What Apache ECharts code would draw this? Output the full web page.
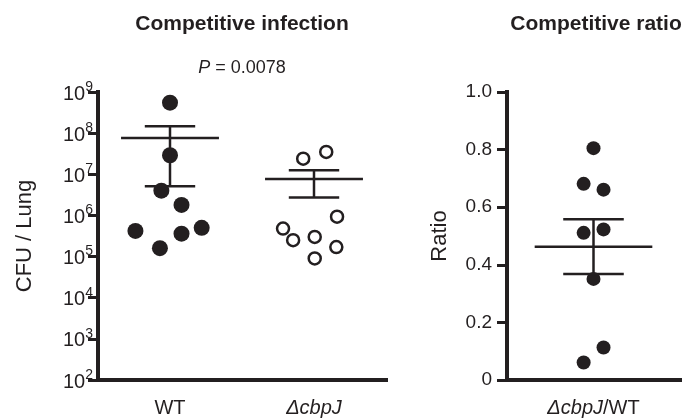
<!DOCTYPE html>
<html>
<head>
<meta charset="utf-8">
<script src="https://cdn.jsdelivr.net/npm/echarts@6/dist/echarts.min.js"></script>
<style>html,body{margin:0;padding:0;background:#fff;}#c{width:683px;height:419px;}</style>
</head>
<body>
<div id="c"></div>
<script>
// ---- data ----
const categories = ['WT', 'ΔcbpJ'];
const wtCFU = [5.5e8, 2.9e7, 4.0e6, 1.8e6, 4.2e5, 3.6e5, 5.0e5, 1.6e5];
const wtJitter = [0, 0, -0.06, 0.08, -0.24, 0.08, 0.22, -0.07];
const mutCFU = [2.4e7, 3.5e7, 9.3e5, 4.8e5, 2.5e5, 3.0e5, 1.7e5, 9.0e4];
const mutJitter = [-0.075, 0.085, 0.16, -0.215, -0.145, 0.005, 0.155, 0.005];
const cfuMean = [7.6e7, 7.67e6];
const cfuSem = [7.09e7, 4.93e6];

const ratioCategory = ['ΔcbpJ/WT'];
const ratioValues = [0.805, 0.681, 0.661, 0.511, 0.523, 0.351, 0.113, 0.061];
const ratioJitter = [0, -0.057, 0.058, -0.057, 0.058, 0, 0.058, -0.057];
const ratioMean = [0.463];
const ratioSem = [0.095];

const titles = ['Competitive infection', 'Competitive ratio'];
const pText = '0.0078';

// ---- chart ----
const INK = '#231f20';
const FONT = 'Liberation Sans, Arial, sans-serif';
const chart = echarts.init(document.getElementById('c'));

function errRenderItem(params, api) {
  const x = api.value(0), m = api.value(1), s = api.value(2);
  const c = (xx, yy) => api.coord([xx, yy]);
  const st = { stroke: INK, lineWidth: 2.5 };
  const seg = (a, b) => ({ type: 'line', shape: { x1: a[0], y1: a[1], x2: b[0], y2: b[1] }, style: st });
  return {
    type: 'group',
    children: [
      seg(c(x - 0.34, m), c(x + 0.34, m)),
      seg(c(x, m - s), c(x, m + s)),
      seg(c(x - 0.175, m + s), c(x + 0.175, m + s)),
      seg(c(x - 0.175, m - s), c(x + 0.175, m - s))
    ]
  };
}

function catLabel(name) {
  const i = name.indexOf('/');
  if (name.charAt(0) === 'Δ') {
    if (i > 0) return '{i|' + name.slice(0, i) + '}{n|' + name.slice(i) + '}';
    return '{i|' + name + '}';
  }
  return '{n|' + name + '}';
}
const catRich = {
  i: { fontSize: 20, fontStyle: 'italic', color: INK, fontFamily: FONT },
  n: { fontSize: 20, color: INK, fontFamily: FONT }
};

const axisLineStyle = { color: INK, width: 4, cap: 'square' };

const option = {
  animation: false,
  backgroundColor: '#fff',
  textStyle: { fontFamily: FONT },
  grid: [
    { left: 98, top: 92, width: 288, bottom: 39 },
    { left: 507, top: 92, width: 188, bottom: 39 }
  ],
  xAxis: [
    {
      type: 'value', gridIndex: 0, min: -0.5, max: 1.5, interval: 0.5,
      axisLine: { onZero: false, lineStyle: axisLineStyle },
      axisTick: { show: false }, splitLine: { show: false },
      axisLabel: {
        margin: 18, rich: catRich,
        formatter: v => {
          const k = Math.round(v);
          return (Math.abs(v - k) < 1e-6 && categories[k]) ? catLabel(categories[k]) : '';
        }
      }
    },
    {
      type: 'value', gridIndex: 1, min: -0.5, max: 0.5, interval: 0.5,
      axisLine: { onZero: false, lineStyle: axisLineStyle },
      axisTick: { show: false }, splitLine: { show: false },
      axisLabel: {
        margin: 18, rich: catRich,
        formatter: v => (Math.abs(v) < 1e-6 ? catLabel(ratioCategory[0]) : '')
      }
    }
  ],
  yAxis: [
    {
      type: 'log', logBase: 10, gridIndex: 0, min: 1e2, max: 1e9,
      name: 'CFU / Lung', nameLocation: 'middle', nameGap: 62,
      nameTextStyle: { fontSize: 22, color: INK, fontFamily: FONT },
      axisLine: { show: true, onZero: false, lineStyle: axisLineStyle },
      axisTick: { show: true, length: 10, lineStyle: { color: INK, width: 3 } },
      minorTick: { show: false },
      splitLine: { show: false },
      axisLabel: {
        margin: 5,
        formatter: v => '{b|10}{s|' + Math.round(Math.log10(v)) + '}',
        rich: {
          b: { fontSize: 20, lineHeight: 24, verticalAlign: 'bottom', color: INK, fontFamily: FONT },
          s: { fontSize: 14, lineHeight: 14, verticalAlign: 'top', color: INK, fontFamily: FONT }
        }
      }
    },
    {
      type: 'value', gridIndex: 1, min: 0, max: 1, interval: 0.2,
      name: 'Ratio', nameLocation: 'middle', nameGap: 56,
      nameTextStyle: { fontSize: 22, color: INK, fontFamily: FONT },
      axisLine: { show: true, onZero: false, lineStyle: axisLineStyle },
      axisTick: { show: true, length: 10, lineStyle: { color: INK, width: 3 } },
      splitLine: { show: false },
      axisLabel: {
        margin: 15, fontSize: 19, color: INK, fontFamily: FONT,
        formatter: v => (Math.abs(v) < 1e-9 ? '0' : v.toFixed(1))
      }
    }
  ],
  graphic: [
    { type: 'text', x: 242, y: 24, style: { text: titles[0], font: 'bold 21px ' + FONT, fill: INK, textAlign: 'center', textVerticalAlign: 'middle' } },
    { type: 'text', x: 596, y: 24, style: { text: titles[1], font: 'bold 21px ' + FONT, fill: INK, textAlign: 'center', textVerticalAlign: 'middle' } },
    { type: 'text', x: 242, y: 68, style: {
        text: '{i|P} = ' + pText, textAlign: 'center', textVerticalAlign: 'middle', fill: INK,
        font: '18px ' + FONT,
        rich: { i: { fontStyle: 'italic', fontSize: 18, fontFamily: FONT, color: INK } }
      } }
  ],
  series: [
    {
      type: 'scatter', xAxisIndex: 0, yAxisIndex: 0, symbol: 'circle', symbolSize: 16,
      itemStyle: { color: INK, opacity: 1 },
      data: wtCFU.map((v, i) => [0 + wtJitter[i], v]), z: 3
    },
    {
      type: 'scatter', xAxisIndex: 0, yAxisIndex: 0, symbol: 'circle', symbolSize: 12,
      itemStyle: { color: '#fff', borderColor: INK, borderWidth: 2.5, opacity: 1 },
      data: mutCFU.map((v, i) => [1 + mutJitter[i], v]), z: 3
    },
    {
      type: 'custom', xAxisIndex: 0, yAxisIndex: 0, renderItem: errRenderItem, clip: false,
      encode: { x: 0, y: 1 },
      data: cfuMean.map((m, i) => [i, m, cfuSem[i]]), z: 4
    },
    {
      type: 'scatter', xAxisIndex: 1, yAxisIndex: 1, symbol: 'circle', symbolSize: 14,
      itemStyle: { color: INK, opacity: 1 },
      data: ratioValues.map((v, i) => [0 + ratioJitter[i], v]), z: 3
    },
    {
      type: 'custom', xAxisIndex: 1, yAxisIndex: 1, renderItem: errRenderItem, clip: false,
      encode: { x: 0, y: 1 },
      data: ratioMean.map((m, i) => [i, m, ratioSem[i]]), z: 4
    }
  ]
};
chart.setOption(option);
</script>
</body>
</html>
